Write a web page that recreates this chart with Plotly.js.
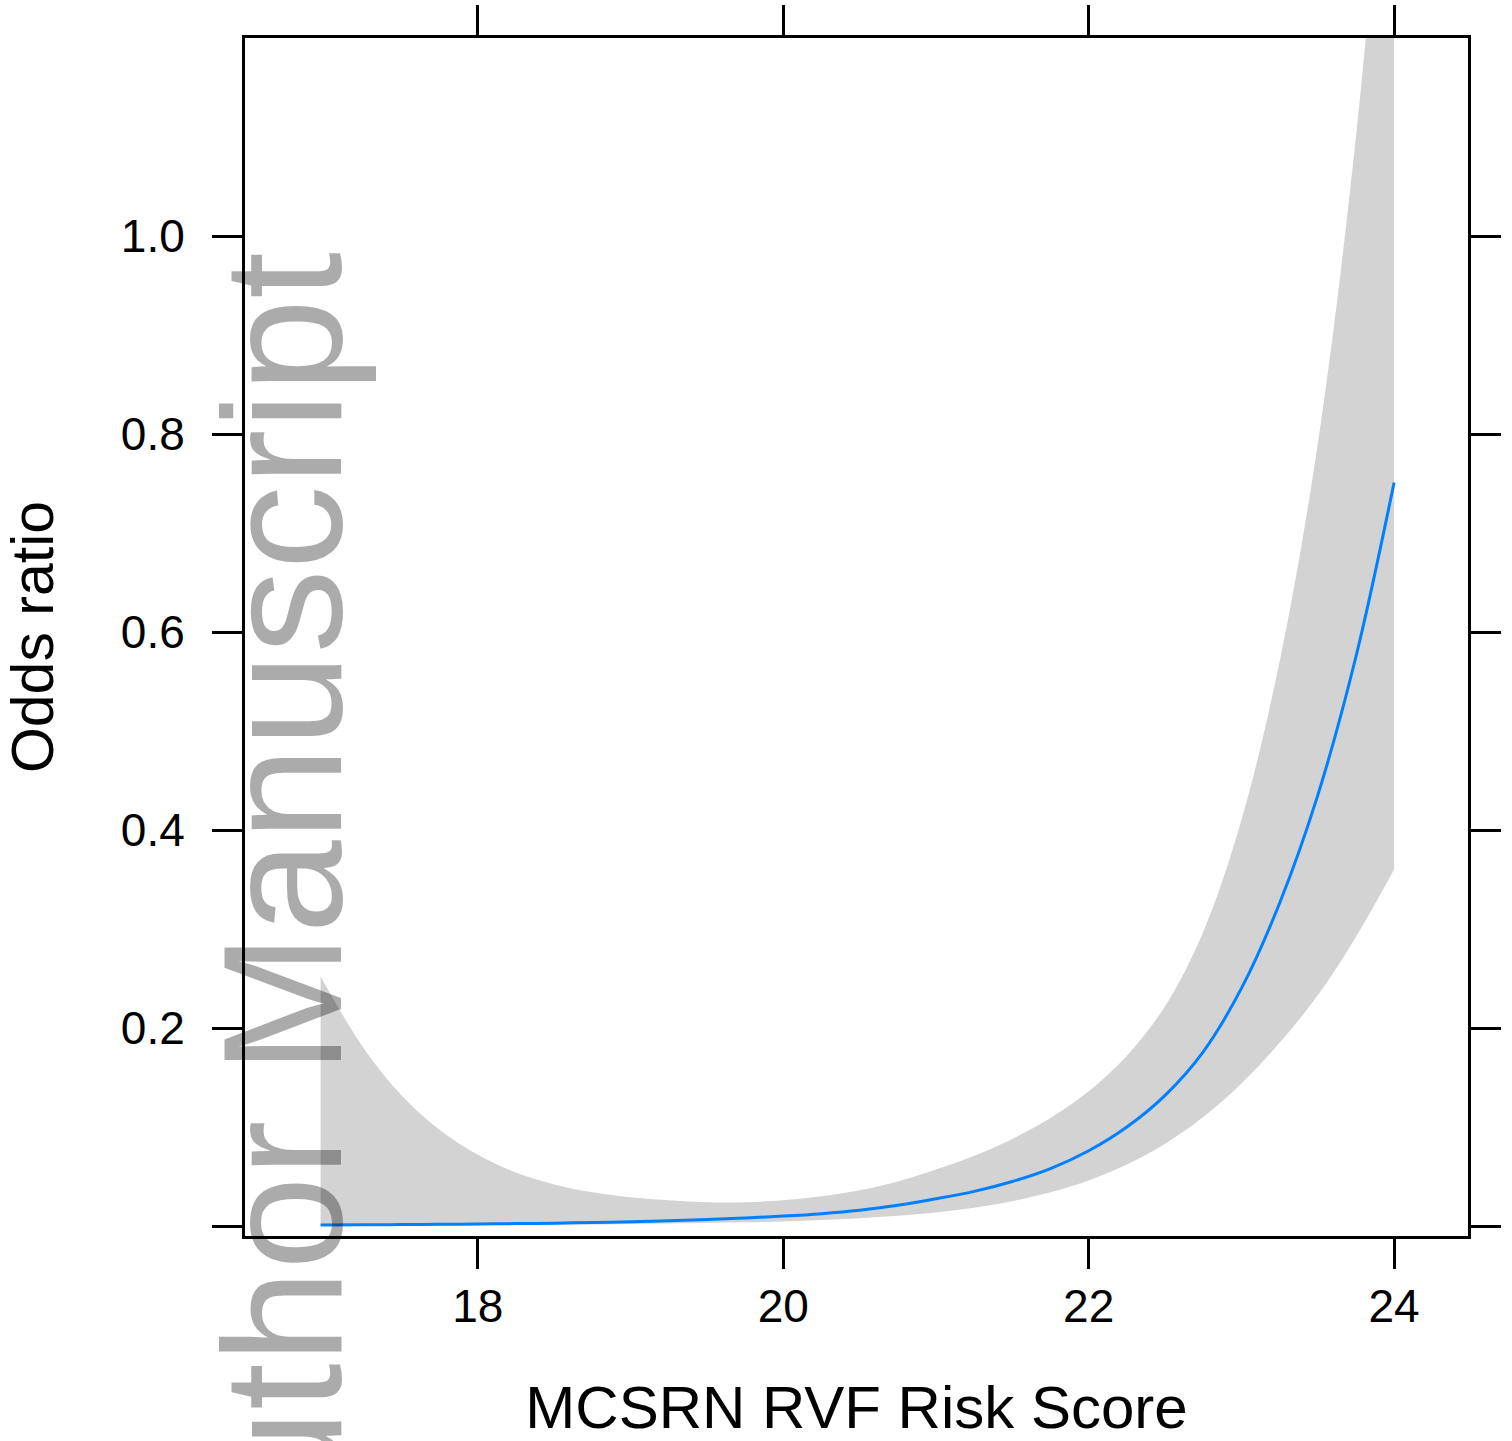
<!DOCTYPE html>
<html>
<head>
<meta charset="utf-8">
<script src="https://cdn.plot.ly/plotly-3.0.1.min.js"></script>
<style>html,body{margin:0;padding:0;background:#fff;}#chart{width:1512px;height:1441px;}</style>
</head>
<body>
<div id="chart"></div>
<script>
// Risk score grid
const score = [16.97, 17.25, 17.5, 17.75, 18, 18.25, 18.5, 18.75, 19, 19.25, 19.5, 19.75, 20, 20.25, 20.5, 20.75, 21, 21.25, 21.5, 21.75, 22, 22.25, 22.5, 22.75, 23, 23.25, 23.5, 23.75, 24];
// Fitted odds ratio
const oddsFit = [0.001, 0.0012, 0.0014, 0.0017, 0.002, 0.0024, 0.0029, 0.0035, 0.0043, 0.0053, 0.0065, 0.0081, 0.010, 0.0125, 0.016, 0.021, 0.0275, 0.035, 0.045, 0.058, 0.076, 0.100, 0.132, 0.176, 0.240, 0.326, 0.435, 0.575, 0.751];
// Confidence band
const upperCI = [0.252, 0.180, 0.132, 0.097, 0.072, 0.054, 0.042, 0.034, 0.029, 0.026, 0.024, 0.024, 0.026, 0.030, 0.036, 0.045, 0.057, 0.071, 0.088, 0.109, 0.136, 0.172, 0.222, 0.297, 0.410, 0.570, 0.790, 1.10, 1.53];
const lowerCI = [0.0003, 0.0004, 0.0005, 0.0006, 0.0008, 0.001, 0.0012, 0.0015, 0.002, 0.0025, 0.003, 0.0037, 0.0045, 0.006, 0.0078, 0.0103, 0.0137, 0.0185, 0.025, 0.034, 0.046, 0.062, 0.083, 0.110, 0.144, 0.185, 0.233, 0.292, 0.360];

const xTicks = [18, 20, 22, 24];
const yTicks = [0, 0.2, 0.4, 0.6, 0.8, 1.0];
const yTickText = ['', '0.2', '0.4', '0.6', '0.8', '1.0'];

const FONT = 'Liberation Sans, Arial, Helvetica, sans-serif';

const traces = [
  {x: score, y: lowerCI, type: 'scatter', mode: 'lines', line: {width: 0, shape: 'spline', color: 'rgba(0,0,0,0)'}, showlegend: false, hoverinfo: 'skip'},
  {x: score, y: upperCI, type: 'scatter', mode: 'lines', fill: 'tonexty', fillcolor: '#D3D3D3', line: {width: 0, shape: 'spline', color: 'rgba(0,0,0,0)'}, showlegend: false, hoverinfo: 'skip'},
  {x: score, y: oddsFit, type: 'scatter', mode: 'lines', line: {width: 3, shape: 'spline', color: '#0080FF'}, showlegend: false}
];

const axisCommon = {
  showgrid: false, zeroline: false, showline: true, linecolor: '#000', linewidth: 3,
  mirror: 'ticks', ticks: 'outside', ticklen: 30, tickwidth: 3, tickcolor: '#000',
  tickfont: {family: FONT, size: 46, color: '#000'}
};

const layout = {
  width: 1512, height: 1441,
  margin: {l: 245, r: 44, t: 38, b: 205},
  paper_bgcolor: '#fff', plot_bgcolor: '#fff',
  showlegend: false,
  xaxis: Object.assign({}, axisCommon, {
    range: [16.475, 24.484], tickvals: xTicks, ticktext: xTicks.map(String),
    ticklabelstandoff: -2,
    title: {text: 'MCSRN RVF Risk Score', font: {family: FONT, size: 60, color: '#000'}, standoff: 57}
  }),
  yaxis: Object.assign({}, axisCommon, {
    range: [-0.0101, 1.2], tickvals: yTicks, ticktext: yTickText,
    ticklabelstandoff: 18,
    title: {text: 'Odds ratio', font: {family: FONT, size: 59, color: '#000'}, standoff: 50}
  }),
  annotations: [{
    text: 'Author Manuscript', xref: 'paper', yref: 'paper', x: 0.031, y: 0.823,
    xanchor: 'center', yanchor: 'top', textangle: -90, showarrow: false,
    font: {family: FONT, size: 168, color: 'rgba(0,0,0,0.33)'}
  }]
};

Plotly.newPlot('chart', traces, layout, {displayModeBar: false, staticPlot: true});
</script>
</body>
</html>
